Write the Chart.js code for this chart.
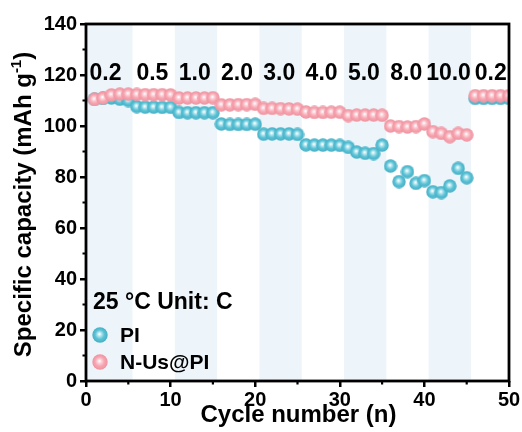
<!DOCTYPE html>
<html>
<head>
<meta charset="utf-8">
<script src="https://cdn.jsdelivr.net/npm/chart.js@4/dist/chart.umd.min.js"></script>
<style>
  html, body { margin: 0; padding: 0; background: #ffffff; }
  canvas { display: block; }
</style>
</head>
<body>
<canvas id="chart" width="522" height="432"></canvas>
<script>
// Rate-capability test: 5 cycles at each C-rate, then back to 0.2 C
const cycles = [
  1, 2, 3, 4, 5, 6, 7, 8, 9, 10,
  11, 12, 13, 14, 15, 16, 17, 18, 19, 20,
  21, 22, 23, 24, 25, 26, 27, 28, 29, 30,
  31, 32, 33, 34, 35, 36, 37, 38, 39, 40,
  41, 42, 43, 44, 45, 46, 47, 48, 49, 50
];

// Specific capacity (mAh g-1) of the bare PI electrode
const capacityPI = [
  110.5, 110.8, 111.0, 110.5, 110.0,
  107.6, 107.4, 107.4, 107.3, 107.3,
  105.3, 105.2, 105.2, 105.2, 105.2,
  100.8, 100.6, 100.6, 100.6, 100.7,
  96.8, 96.9, 96.9, 96.9, 96.7,
  92.6, 92.5, 92.5, 92.5, 92.4,
  91.6, 89.8, 89.3, 89.2, 92.5,
  84.3, 78.2, 82.1, 77.5, 78.6,
  74.2, 73.9, 76.5, 83.4, 79.7,
  110.8, 110.8, 110.8, 110.8, 110.8
];

// Specific capacity (mAh g-1) of the N-Us@PI electrode
const capacityNUsPI = [
  110.4, 111.0, 112.2, 112.5, 112.5,
  112.4, 112.3, 112.3, 112.3, 112.2,
  111.0, 111.0, 111.0, 111.0, 111.1,
  108.3, 108.3, 108.4, 108.4, 108.5,
  106.9, 106.9, 106.8, 106.7, 106.6,
  105.5, 105.3, 105.3, 105.4, 105.4,
  104.1, 104.3, 104.3, 104.3, 104.2,
  100.0, 99.8, 99.6, 99.8, 100.8,
  97.8, 97.1, 95.8, 97.1, 96.5,
  111.9, 111.9, 111.9, 111.9, 111.9
];

// C-rate of each block of five cycles
const rateLabels = ['0.2', '0.5', '1.0', '2.0', '3.0', '4.0', '5.0', '8.0', '10.0', '0.2'];
const cyclesPerRate = 5;

const xTicks = [0, 10, 20, 30, 40, 50];
const yTicks = [0, 20, 40, 60, 80, 100, 120, 140];

const seriesNames = ['PI', 'N-Us@PI'];
const legendTitle = '25 \u00B0C Unit: C';

const FONT = '"Liberation Sans", Arial, Helvetica, sans-serif';

// Glossy ball markers
function makeBall(size, base, rim, glow) {
  const c = document.createElement('canvas');
  c.width = size; c.height = size;
  const g = c.getContext('2d');
  const r = size / 2;
  const grad = g.createRadialGradient(r - 0.6, r - 1.0, 0.3, r, r, r);
  grad.addColorStop(0, '#ffffff');
  grad.addColorStop(0.2, glow);
  grad.addColorStop(0.55, base);
  grad.addColorStop(1, rim);
  g.fillStyle = grad;
  g.beginPath();
  g.arc(r, r, r - 0.3, 0, Math.PI * 2);
  g.fill();
  return c;
}
const blueBall = makeBall(14, '#5cc3d6', '#43adc4', '#b9e7f0');
const pinkBall = makeBall(14, '#f7a7b2', '#ee909e', '#fcd6dc');
const blueBallBig = makeBall(16, '#5cc3d6', '#43adc4', '#b9e7f0');
const pinkBallBig = makeBall(16, '#f7a7b2', '#ee909e', '#fcd6dc');

// Light bands behind every other C-rate block
const bandPlugin = {
  id: 'rateBands',
  beforeDatasetsDraw(chart) {
    const { ctx, chartArea: a, scales: { x } } = chart;
    ctx.save();
    ctx.fillStyle = '#edf5fa';
    for (let i = 0; i < rateLabels.length; i += 2) {
      const start = Math.max(x.min, i * cyclesPerRate + 0.5);
      const end = i * cyclesPerRate + cyclesPerRate + 0.5;
      const x0 = x.getPixelForValue(i === 0 ? x.min : start);
      const x1 = x.getPixelForValue(end);
      ctx.fillRect(x0, a.top, x1 - x0, a.bottom - a.top);
    }
    ctx.restore();
  }
};

// Frame, minor ticks, rate labels, legend and axis titles
const decorPlugin = {
  id: 'decor',
  afterDraw(chart) {
    const { ctx, chartArea: a, scales: { x, y } } = chart;
    ctx.save();

    // minor ticks
    ctx.strokeStyle = '#000';
    ctx.lineWidth = 2.2;
    ctx.beginPath();
    for (let v = 10; v < 140; v += 20) {
      const py = y.getPixelForValue(v);
      ctx.moveTo(a.left, py); ctx.lineTo(a.left - 3.5, py);
    }
    for (let v = 5; v < 50; v += 10) {
      const px = x.getPixelForValue(v);
      ctx.moveTo(px, a.bottom); ctx.lineTo(px, a.bottom + 3.5);
    }
    ctx.stroke();

    // frame
    ctx.lineWidth = 2.8;
    ctx.strokeRect(a.left, a.top, a.right - a.left, a.bottom - a.top);

    // C-rate labels
    ctx.fillStyle = '#000';
    ctx.font = 'bold 23px ' + FONT;
    ctx.textAlign = 'center';
    ctx.textBaseline = 'middle';
    rateLabels.forEach((t, i) => {
      const cx = i * cyclesPerRate + 3 - (i === 0 ? 0.7 : 0.15);
      ctx.fillText(t, x.getPixelForValue(cx), y.getPixelForValue(120.5));
    });

    // legend
    ctx.textAlign = 'left';
    ctx.font = 'bold 23px ' + FONT;
    ctx.fillText(legendTitle, a.left + 7, 303);
    ctx.font = 'bold 21px ' + FONT;
    ctx.drawImage(blueBallBig, a.left + 6, 335 - 8);
    ctx.fillText(seriesNames[0], a.left + 34, 336);
    ctx.drawImage(pinkBallBig, a.left + 6, 362 - 8);
    ctx.fillText(seriesNames[1], a.left + 34, 363);

    // x axis title
    ctx.font = 'bold 24px ' + FONT;
    ctx.textAlign = 'center';
    ctx.fillText('Cycle number (n)', (a.left + a.right) / 2 + 1, 415);

    // y axis title with superscript
    const main = 'Specific capacity (mAh g';
    const sup = '-1';
    const tail = ')';
    ctx.font = 'bold 24px ' + FONT;
    const wMain = ctx.measureText(main).width;
    const wTail = ctx.measureText(tail).width;
    ctx.font = 'bold 15px ' + FONT;
    const wSup = ctx.measureText(sup).width;
    const total = wMain + wSup + wTail;
    ctx.translate(22, (a.top + a.bottom) / 2 + 2);
    ctx.rotate(-Math.PI / 2);
    ctx.textAlign = 'left';
    ctx.textBaseline = 'alphabetic';
    let px = -total / 2;
    ctx.font = 'bold 24px ' + FONT;
    ctx.fillText(main, px, 9);
    px += wMain;
    ctx.font = 'bold 15px ' + FONT;
    ctx.fillText(sup, px, -1);
    px += wSup;
    ctx.font = 'bold 24px ' + FONT;
    ctx.fillText(tail, px, 9);

    ctx.restore();
  }
};

const toPoints = vals => cycles.map((c, i) => ({ x: c, y: vals[i] }));

new Chart(document.getElementById('chart').getContext('2d'), {
  type: 'scatter',
  data: {
    datasets: [
      {
        label: seriesNames[1],
        data: toPoints(capacityNUsPI),
        pointStyle: pinkBall,
        order: 0,
        clip: 0
      },
      {
        label: seriesNames[0],
        data: toPoints(capacityPI),
        pointStyle: blueBall,
        order: 1,
        clip: 0
      }
    ]
  },
  options: {
    responsive: false,
    animation: false,
    devicePixelRatio: 1,
    layout: { padding: { left: 0, right: 13, top: 24, bottom: 0 } },
    plugins: { legend: { display: false }, tooltip: { enabled: false } },
    scales: {
      x: {
        type: 'linear',
        min: 0, max: 50,
        afterBuildTicks: s => { s.ticks = xTicks.map(v => ({ value: v })); },
        afterFit: s => { s.height = 51; },
        ticks: { color: '#000', font: { family: FONT, size: 20, weight: 'bold' }, padding: 1, maxRotation: 0 },
        grid: { drawOnChartArea: false, drawTicks: true, tickLength: 6, color: '#000', lineWidth: 2.5 },
        border: { display: false }
      },
      y: {
        type: 'linear',
        min: 0, max: 140,
        afterBuildTicks: s => { s.ticks = yTicks.map(v => ({ value: v })); },
        afterFit: s => { s.width = 86; },
        ticks: { color: '#000', font: { family: FONT, size: 20, weight: 'bold' }, padding: 3 },
        grid: { drawOnChartArea: false, drawTicks: true, tickLength: 6, color: '#000', lineWidth: 2.5 },
        border: { display: false }
      }
    }
  },
  plugins: [bandPlugin, decorPlugin]
});
</script>
</body>
</html>
